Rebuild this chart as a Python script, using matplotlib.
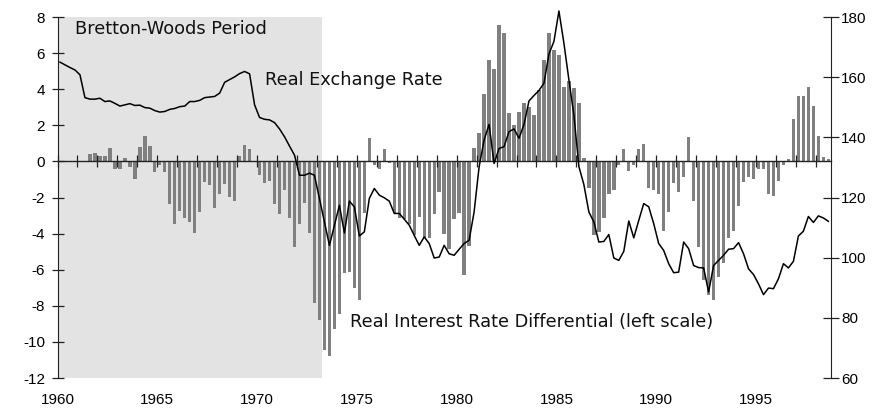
import numpy as np
import pandas as pd
import matplotlib
matplotlib.use('Agg')
import matplotlib.pyplot as plt

# quarterly data, first quarter 1960Q1
start_quarter = '1960Q1'

# real interest rate differential (left scale, percent)
rate_diff = [
    0.0, 0.0, 0.0, 0.0, 0.0, 0.0, 0.39, 0.44, 0.28, 0.28,
    0.72, -0.41, -0.41, 0.17, -0.31, -0.98, 0.78, 1.39, 0.83, -0.59,
    -0.22, -0.59, -2.37, -3.44, -2.72, -3.15, -3.37, -3.98, -2.78, -1.15,
    -1.33, -2.6, -1.8, -1.26, -1.98, -2.22, 0.28, 0.93, 0.69, 0.0,
    -0.78, -1.2, -1.07, -2.35, -2.93, -1.57, -3.15, -4.76, -3.48, -2.33,
    -3.98, -7.87, -8.8, -10.46, -10.8, -9.3, -8.48, -6.2, -6.15, -7.04,
    -7.69, -2.87, 1.28, -0.2, -0.4, 0.67, -0.1, -2.87, -3.15, -3.19,
    -3.46, -4.1, -3.1, -4.26, -4.26, -2.9, -1.67, -4.04, -4.85, -3.2,
    -2.87, -6.3, -4.67, 0.72, 1.56, 3.72, 5.6, 5.1, 7.55, 7.1,
    2.67, 2.04, 2.72, 3.22, 3.0, 2.56, 3.98, 5.6, 7.1, 6.2,
    5.9, 4.1, 4.48, 4.04, 3.22, 0.17, -1.48, -4.07, -3.9, -3.15,
    -1.81, -1.6, -0.22, 0.67, -0.52, -0.19, 0.69, 0.94, -1.48, -1.6,
    -1.81, -3.83, -2.78, -1.2, -1.72, -0.87, 1.33, -2.22, -4.76, -6.57,
    -7.4, -7.7, -6.43, -5.65, -4.26, -3.83, -2.46, -1.15, -0.87, -0.98,
    -0.41, -0.41, -1.81, -1.9, -1.07, -0.19, 0.11, 2.35, 3.6, 3.6,
    4.1, 3.05, 1.39, 0.24, 0.11,
]

# real exchange rate (right scale)
real_fx = [
    165.0, 164.1, 163.2, 162.4, 160.8, 153.2, 152.7, 152.7, 153.0, 151.9,
    152.1, 151.3, 150.4, 150.8, 151.2, 150.6, 150.7, 149.9, 149.7, 148.9,
    148.4, 148.6, 149.3, 149.6, 150.2, 150.4, 151.9, 151.9, 152.3, 153.2,
    153.4, 153.6, 154.7, 158.3, 159.2, 160.1, 161.2, 161.9, 161.1, 150.8,
    146.6, 146.0, 145.8, 144.9, 142.8, 140.2, 137.1, 134.1, 127.4, 127.4,
    128.1, 127.4, 119.7, 111.9, 104.1, 110.8, 117.4, 108.2, 118.8, 116.9,
    107.2, 108.6, 119.7, 123.0, 120.8, 119.9, 118.8, 114.7, 114.7, 112.8,
    110.8, 107.4, 104.1, 106.9, 104.7, 99.9, 100.2, 104.1, 101.3, 100.8,
    102.8, 104.7, 105.8, 115.2, 130.2, 139.1, 144.3, 131.3, 136.3, 136.9,
    141.9, 142.8, 139.7, 144.3, 152.1, 153.9, 155.6, 158.0, 167.7, 171.9,
    182.0, 171.3, 159.1, 147.4, 130.3, 124.3, 115.2, 111.9, 105.2, 105.4,
    107.7, 99.9, 99.1, 102.1, 112.2, 106.6, 112.4, 118.0, 116.9, 111.3,
    104.7, 102.4, 98.0, 95.0, 95.2, 105.2, 103.0, 97.4, 96.7, 96.6,
    88.6, 97.4, 99.1, 100.8, 102.8, 103.0, 105.0, 101.3, 96.3, 94.4,
    91.3, 87.7, 89.9, 89.7, 93.0, 98.0, 96.6, 98.8, 107.2, 108.8,
    113.7, 111.7, 113.9, 113.2, 112.1,
]

bretton_woods = (1960.0, 1973.25)
year_labels = ['1960', '1965', '1970', '1975', '1980', '1985', '1990', '1995']
left_ticks = [-12, -10, -8, -6, -4, -2, 0, 2, 4, 6, 8]
right_ticks = [60, 80, 100, 120, 140, 160, 180]

quarters = pd.period_range(start_quarter, periods=len(rate_diff), freq='Q')
t = np.asarray(quarters.year + (quarters.quarter - 1) / 4 + 0.125, dtype=float)

plt.rcParams['font.family'] = ['Liberation Sans', 'DejaVu Sans']

fig = plt.figure(figsize=(8.82, 4.12), dpi=100)
ax = fig.add_axes([0.0652, 0.0825, 0.8768, 0.8762])
ax2 = ax.twinx()

ax.set_xlim(1960, 1998.75)
ax.set_ylim(-12, 8)
ax2.set_ylim(60, 180)

ax.axvspan(*bretton_woods, color='#e3e3e3', lw=0, zorder=0)
ax.bar(t, rate_diff, width=0.17, color='#808080', lw=0, zorder=1)
ax2.plot(t, real_fx, color='black', lw=1.1, clip_on=False)

# zero line carries the yearly ticks
ax.spines['bottom'].set_position(('data', 0))
ax.spines['bottom'].set_color('#222222')
ax.spines['bottom'].set_linewidth(1.0)
ax.set_xticks(range(1960, 1999))
ax.tick_params(axis='x', direction='inout', length=8, width=0.9,
               color='#222222', labelbottom=False)

# year labels under the plot
sec = ax.secondary_xaxis('bottom')
sec.set_xticks([int(y) for y in year_labels])
sec.set_xticklabels(year_labels)
sec.spines['bottom'].set_visible(False)
sec.tick_params(length=0, pad=11, labelsize=11)

ax.spines['top'].set_visible(False)
ax.spines['right'].set_visible(False)
ax.spines['left'].set_color('#222222')
ax.set_yticks(left_ticks)
ax.set_yticklabels([str(v) for v in left_ticks])
ax.tick_params(axis='y', direction='inout', length=8, width=0.9,
               color='#222222', pad=5, labelsize=11)

for s in ['top', 'bottom', 'left']:
    ax2.spines[s].set_visible(False)
ax2.spines['right'].set_color('#222222')
ax2.set_yticks(right_ticks)
ax2.tick_params(axis='y', direction='inout', length=11, width=0.9,
                color='#222222', pad=2, labelsize=11)

ax.set_zorder(0)
ax2.set_zorder(1)
ax2.patch.set_visible(False)

txt = dict(family=['DejaVu Sans'], fontsize=12.8, color='#111111')
ax.text(1960.88, 7.06, 'Bretton-Woods Period', va='baseline', **txt)
ax.text(1970.4, 4.23, 'Real Exchange Rate', va='baseline', **txt)
ax.text(1974.65, -9.16, 'Real Interest Rate Differential (left scale)',
        va='baseline', **txt)

fig.savefig('out.png', dpi=100)
